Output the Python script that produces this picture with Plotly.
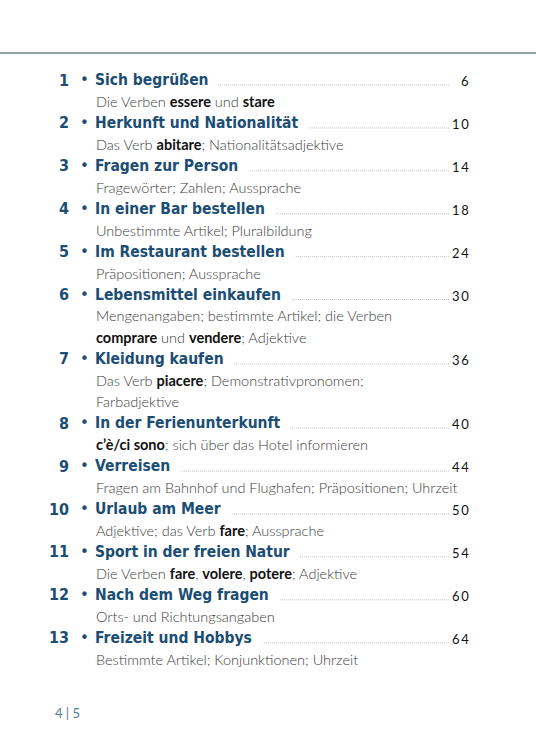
import plotly.graph_objects as go

numbers = [1, 2, 3, 4, 5, 6, 7, 8, 9, 10, 11, 12, 13]
titles = [
    "Sich begrüßen", "Herkunft und Nationalität", "Fragen zur Person",
    "In einer Bar bestellen", "Im Restaurant bestellen", "Lebensmittel einkaufen",
    "Kleidung kaufen", "In der Ferienunterkunft", "Verreisen", "Urlaub am Meer",
    "Sport in der freien Natur", "Nach dem Weg fragen", "Freizeit und Hobbys",
]
pages = [6, 10, 14, 18, 24, 30, 36, 40, 44, 50, 54, 60, 64]
subtitles = [
    ["Die Verben <b>essere</b> und <b>stare</b>"],
    ["Das Verb <b>abitare</b>; Nationalitätsadjektive"],
    ["Fragewörter; Zahlen; Aussprache"],
    ["Unbestimmte Artikel; Pluralbildung"],
    ["Präpositionen; Aussprache"],
    ["Mengenangaben; bestimmte Artikel; die Verben",
     "<b>comprare</b> und <b>vendere</b>; Adjektive"],
    ["Das Verb <b>piacere</b>; Demonstrativpronomen;", "Farbadjektive"],
    ["<b>c’è/ci sono</b>; sich über das Hotel informieren"],
    ["Fragen am Bahnhof und Flughafen; Präpositionen; Uhrzeit"],
    ["Adjektive; das Verb <b>fare</b>; Aussprache"],
    ["Die Verben <b>fare</b>, <b>volere</b>, <b>potere</b>; Adjektive"],
    ["Orts- und Richtungsangaben"],
    ["Bestimmte Artikel; Konjunktionen; Uhrzeit"],
]
footer = "4 | 5"

BLUE = "#1b4d75"
COND = "DejaVu Sans Condensed, Liberation Sans Narrow, sans-serif"
TOP = 80
PITCH = 21.45
X_NUM, X_BUL, X_TXT, X_LEAD_END, X_PAGE = 71, 84, 94, 450, 471

fig = go.Figure()
fig.add_trace(go.Scatter(x=[0, 536], y=[0, 750], mode="markers",
                         marker=dict(opacity=0), hoverinfo="skip", showlegend=False))

annotations = []
shapes = [dict(type="line", xref="x", yref="y", x0=0, x1=536, y0=53, y1=53,
               line=dict(color="#6b8388", width=1.5))]

line_no = 0
for num, title, page, subs in zip(numbers, titles, pages, subtitles):
    y = TOP + line_no * PITCH
    shapes.append(dict(type="line", xref="x", yref="y", x0=X_TXT, x1=X_LEAD_END,
                       y0=y + 5, y1=y + 5, layer="below",
                       line=dict(color="#a0a0a0", width=0.6, dash="1px,1px")))
    annotations.append(dict(x=X_NUM, y=y, text=str(num), xanchor="right", yanchor="middle",
                            font=dict(family=COND, size=16, color=BLUE, weight="bold")))
    annotations.append(dict(x=X_BUL, y=y, text="•", xanchor="center", yanchor="middle",
                            font=dict(family="DejaVu Sans", size=15, color=BLUE)))
    annotations.append(dict(x=X_TXT, y=y, text=title + "\u00a0\u00a0", xanchor="left",
                            yanchor="middle", bgcolor="white", borderpad=0,
                            font=dict(family=COND, size=15.5, color=BLUE, weight="bold")))
    annotations.append(dict(x=X_PAGE, y=y + 1, text="\u2009".join(str(page)),
                            xanchor="right", yanchor="middle",
                            font=dict(family="Lato", size=13, color="#111111")))
    line_no += 1
    for s in subs:
        ys = TOP + line_no * PITCH
        annotations.append(dict(x=X_TXT, y=ys, text=s.replace("<b>", "<b style='color:#111'>"),
                                xanchor="left", yanchor="middle",
                                font=dict(family="Lato", size=14.5, color="#3c3c3c",
                                          weight=300)))
        line_no += 1

annotations.append(dict(x=53, y=713, text=footer, xanchor="left", yanchor="middle",
                        font=dict(family="Lato", size=13, color="#4f7d9c")))

for a in annotations:
    a.update(xref="x", yref="y", showarrow=False)

fig.update_layout(
    width=536, height=750,
    margin=dict(l=0, r=0, t=0, b=0),
    paper_bgcolor="white", plot_bgcolor="white",
    xaxis=dict(range=[0, 536], visible=False, fixedrange=True),
    yaxis=dict(range=[750, 0], visible=False, fixedrange=True),
    annotations=annotations, shapes=shapes,
)
fig.write_html("out.html", config={"displayModeBar": False},
               post_script="document.body.style.margin='0';")
